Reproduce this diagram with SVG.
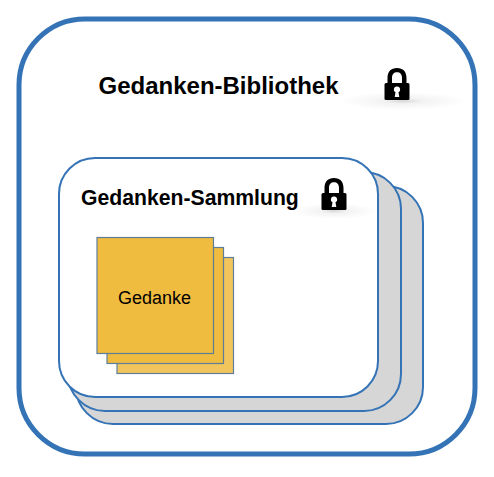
<svg xmlns="http://www.w3.org/2000/svg" width="494" height="477" viewBox="0 0 494 477">
<style>
text{font-family:"Liberation Sans",Arial,sans-serif;fill:#000}
.t{font-weight:bold}
.card{stroke:#3473b5;stroke-width:2;fill:#d6d6d6}
.sq{stroke:#5e7d98;stroke-width:1.2;fill:#efbc40}
</style>
<defs>
<radialGradient id="sh"><stop offset="0" stop-color="#000" stop-opacity=".16"/><stop offset=".3" stop-color="#000" stop-opacity=".05"/><stop offset="1" stop-color="#000" stop-opacity="0"/></radialGradient>
<g id="lock">
<path d="M2.500 2V-5C2.500-11.500 6-15 12-15S21.500-11.500 21.500-5V2H17V-5C17-9 15-10.800 12-10.800S7-9 7-5V2Z" fill="#000"/>
<path fill-rule="evenodd" d="M1 0H23Q24.500 0 24.500 1.500V16Q24.500 17 23 17H1Q-.5 17-.5 16V1.500Q-.5 0 1 0ZM12 3.500A3 3 0 0 0 10.500 9.200L9.700 14H14.300L13.500 9.200A3 3 0 0 0 12 3.500Z" fill="#000"/>
</g>
</defs>
<rect width="494" height="477" fill="#fff"/>
<g id="bibliothek">
<rect x="19" y="19" width="456" height="435" rx="66" ry="66" fill="#fff" stroke="#3473b5" stroke-width="5"/>
<text class="t" x="98.500" y="94" font-size="24">Gedanken-Bibliothek</text>
<ellipse cx="403" cy="101" rx="64" ry="9" fill="url(#sh)"/>
<use href="#lock" x="385" y="83"/>
</g>
<g id="sammlung-3"><rect class="card" x="76" y="186" width="347" height="238" rx="37"/></g>
<g id="sammlung-2"><rect class="card" x="68" y="172" width="333" height="239" rx="37"/></g>
<g id="sammlung-1">
<rect class="card" x="59" y="158" width="319" height="239" rx="36" style="fill:#fff"/>
<text class="t" x="81" y="205" font-size="21.200">Gedanken-Sammlung</text>
<ellipse cx="334" cy="211" rx="42" ry="8" fill="url(#sh)"/>
<use href="#lock" x="322" y="193"/>
</g>
<g id="gedanke-3"><rect class="sq" x="117" y="257.500" width="116.500" height="116" style="fill:#f2c55c"/></g>
<g id="gedanke-2"><rect class="sq" x="107" y="247.500" width="116.500" height="116"/></g>
<g id="gedanke-1">
<rect class="sq" x="97" y="237.500" width="116.500" height="116"/>
<text x="118" y="304" font-size="18">Gedanke</text>
</g>
<g id="connectors"/>
</svg>
